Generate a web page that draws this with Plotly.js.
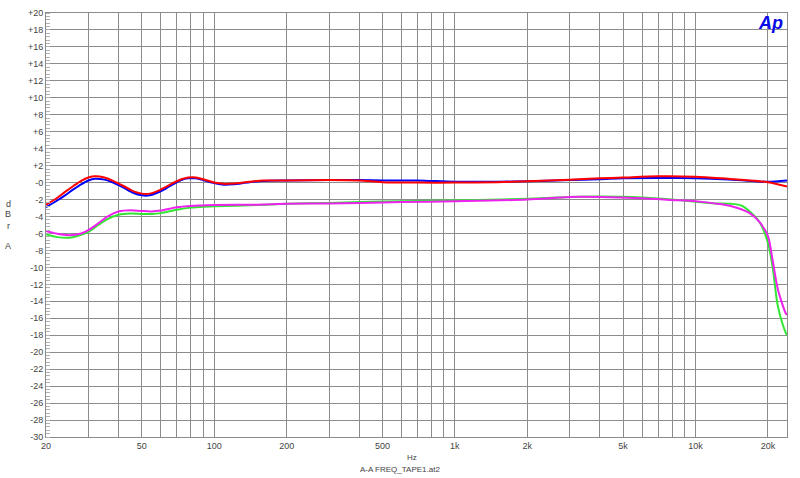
<!DOCTYPE html>
<html>
<head>
<meta charset="utf-8">
<script src="https://cdn.plot.ly/plotly-3.0.1.min.js"></script>
<style>html,body{margin:0;padding:0;background:#fff;}#chart{width:800px;height:478px;}</style>
</head>
<body>
<div id="chart"></div>
<script>
// Red curve
const redFreq = [20,22,24,26,28,30,32,35,38,42,46,50,54,58,63,68,73,78,84,90,100,110,120,140,160,200,300,400,500,700,1000,1500,2000,3000,4000,5000,7000,10000,13000,16000,20000,24000];
const redDb   = [-2.6,-1.9,-1.1,-0.4,0.2,0.6,0.75,0.6,0.2,-0.4,-1.0,-1.3,-1.3,-1.0,-0.5,0.0,0.4,0.6,0.6,0.4,0.0,-0.15,-0.1,0.1,0.25,0.25,0.3,0.25,0.05,0.0,0.0,0.05,0.15,0.35,0.5,0.6,0.75,0.7,0.5,0.3,0.05,-0.45];
// Blue curve
const blueFreq = [20,22,24,26,28,30,32,35,38,42,46,50,54,58,63,68,73,78,84,90,100,110,120,140,160,200,300,400,500,700,1000,1500,2000,3000,4000,5000,7000,10000,13000,16000,20000,24000];
const blueDb   = [-2.9,-2.2,-1.5,-0.8,-0.2,0.25,0.45,0.35,0.0,-0.6,-1.2,-1.5,-1.5,-1.2,-0.7,-0.15,0.3,0.5,0.5,0.3,-0.05,-0.25,-0.2,0.05,0.2,0.25,0.3,0.3,0.25,0.25,0.1,0.1,0.15,0.3,0.4,0.5,0.55,0.5,0.4,0.25,0.1,0.25];
// Green curve
const greenFreq = [20,22,25,27,30,33,36,40,45,50,55,60,70,80,90,100,150,200,300,400,600,1000,2000,3000,4000,6000,8000,10000,12000,14000,15500,16800,18500,20000,20900,22000,23700,24000];
const greenDb   = [-6.1,-6.4,-6.5,-6.3,-5.8,-5.0,-4.3,-3.8,-3.65,-3.7,-3.7,-3.6,-3.2,-2.95,-2.85,-2.8,-2.65,-2.5,-2.4,-2.3,-2.2,-2.1,-1.9,-1.7,-1.65,-1.75,-2.0,-2.25,-2.45,-2.5,-2.7,-3.4,-4.7,-7.1,-9.9,-14.6,-17.7,-18.0];
// Magenta curve
const magFreq = [20,22,25,28,30,33,36,40,45,50,55,60,70,80,90,100,150,200,300,400,600,1000,2000,3000,4000,6000,8000,10000,12000,14000,16800,18500,20000,20900,22000,23700,24000];
const magDb   = [-5.7,-6.0,-6.2,-6.0,-5.6,-4.8,-4.0,-3.4,-3.25,-3.35,-3.4,-3.3,-2.9,-2.75,-2.7,-2.65,-2.6,-2.5,-2.45,-2.4,-2.3,-2.2,-2.0,-1.7,-1.7,-1.85,-2.05,-2.2,-2.45,-2.75,-3.6,-4.7,-6.3,-9.1,-12.6,-15.4,-15.6];

// Axis ticks
const xGridVals = [20,30,40,50,60,70,80,90,100,200,300,400,500,600,700,800,900,1000,2000,3000,4000,5000,6000,7000,8000,9000,10000,20000];
const xLabelMap = {20:'20',50:'50',100:'100',200:'200',500:'500',1000:'1k',2000:'2k',5000:'5k',10000:'10k',20000:'20k'};
const xGridText = xGridVals.map(v => xLabelMap[v] || '');
const yVals = [];
for (let v = -30; v <= 20; v += 2) yVals.push(v);
const yText = yVals.map(v => v > 0 ? '+' + v : (v === 0 ? '-0' : String(v)));
const yLabelLetters = ['d', 'B', 'r', 'A'];

function tr(x, y, color) {
  return {x: x, y: y, type: 'scatter', mode: 'lines', line: {color: color, width: 2, shape: 'spline', smoothing: 0.8}, hoverinfo: 'skip'};
}

const data = [
  tr(greenFreq, greenDb, '#33e633'),
  tr(magFreq, magDb, '#ee22ee'),
  tr(blueFreq, blueDb, '#0000ff'),
  tr(redFreq, redDb, '#ff0000')
];

const font = {family: 'Liberation Sans, Arial, sans-serif', size: 9, color: '#444'};
const smallFont = {family: 'Liberation Sans, Arial, sans-serif', size: 8, color: '#444'};
const letterY = [0.5495, 0.526, 0.4976, 0.4505];
const annotations = [
  {text: 'Hz', xref: 'paper', yref: 'paper', x: 0.494, y: -0.0495, xanchor: 'center', yanchor: 'middle', showarrow: false, font: smallFont},
  {text: 'A-A FREQ_TAPE1.at2', xref: 'paper', yref: 'paper', x: 0.478, y: -0.0778, xanchor: 'center', yanchor: 'middle', showarrow: false, font: smallFont},
  {text: '<b><i>Ap</i></b>', xref: 'paper', yref: 'paper', x: 1, xshift: -2, y: 1, yshift: 2, xanchor: 'right', yanchor: 'top', showarrow: false, font: {family: 'Liberation Sans, Arial, sans-serif', size: 18, color: '#0a0ae6'}}
];
yLabelLetters.forEach((t, i) => annotations.push({text: t, xref: 'paper', yref: 'paper', x: 0, xshift: -38, y: letterY[i], xanchor: 'center', yanchor: 'middle', showarrow: false, font: font}));

const layout = {
  width: 800, height: 478,
  margin: {l: 46, r: 13, t: 13, b: 41},
  paper_bgcolor: '#fff', plot_bgcolor: '#fff',
  showlegend: false,
  font: font,
  xaxis: {
    type: 'log', range: [Math.log10(20), Math.log10(24000)],
    tickmode: 'array', tickvals: xGridVals, ticktext: xGridText,
    showgrid: true, gridcolor: '#8c8c8c', gridwidth: 1,
    showline: true, linecolor: '#8c8c8c', mirror: true,
    ticks: '', zeroline: false, tickfont: font
  },
  yaxis: {
    range: [-30, 20],
    tickmode: 'array', tickvals: yVals, ticktext: yText,
    showgrid: true, gridcolor: '#8c8c8c', gridwidth: 1,
    showline: true, linecolor: '#8c8c8c', mirror: true,
    ticks: '', zeroline: false, tickfont: font,
    minor: {dtick: 0.4, tick0: 0, ticks: 'inside', ticklen: 4, tickcolor: '#b0b0b0', showgrid: false}
  },
  annotations: annotations
};

Plotly.newPlot('chart', data, layout, {staticPlot: true, displayModeBar: false});
</script>
</body>
</html>
